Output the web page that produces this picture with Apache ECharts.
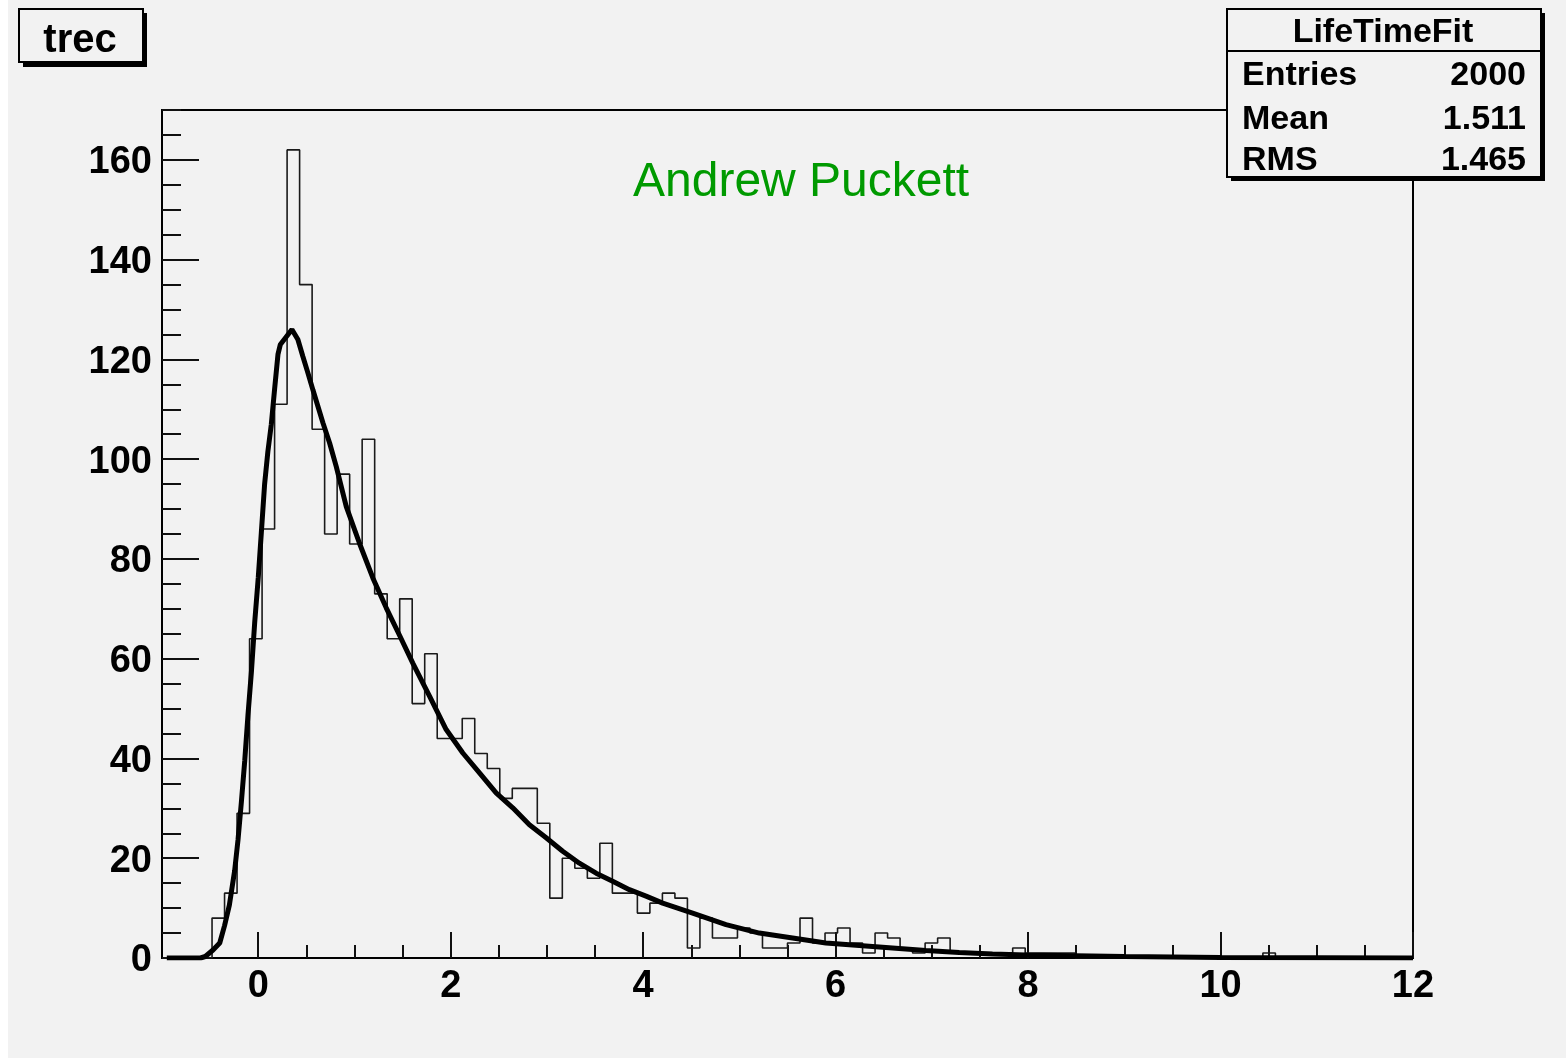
<!DOCTYPE html>
<html>
<head>
<meta charset="utf-8">
<script src="https://cdn.jsdelivr.net/npm/echarts@6/dist/echarts.min.js"></script>
<style>
  html, body { margin: 0; padding: 0; background: #ffffff; }
  #bg { position: absolute; left: 8px; top: 0; width: 1558px; height: 1058px; background: #f2f2f2; }
  #chart { position: absolute; left: 0; top: 0; width: 1566px; height: 1061px; }
</style>
</head>
<body>
<div id="bg"></div>
<div id="chart"></div>
<script>
// ---- Histogram definition: 100 bins from -1 to 12 ----
const binLow = -1;
const binWidth = 0.13;
const counts = [
  0, 0, 0, 0, 8, 13, 29, 64, 86, 111,
  162, 135, 106, 85, 97, 83, 104, 73, 64, 72,
  51, 61, 44, 44, 48, 41, 38, 32, 34, 34,
  27, 12, 20, 18, 16, 23, 13, 13, 9, 11,
  13, 12, 2, 8, 4, 4, 6, 5, 2, 2,
  3, 8, 3, 5, 6, 3, 1, 5, 4, 2,
  1, 3, 4, 1, 1, 1, 1, 1, 2, 1,
  1, 1, 1, 0, 0, 0, 0, 0, 0, 0,
  0, 0, 0, 0, 0, 0, 0, 0, 1, 0,
  0, 0, 0, 0, 0, 0, 0, 0, 0, 0
];

// ---- Fit curve ----
const curveX = [-0.95, -0.6, -0.55, -0.47, -0.40, -0.35, -0.30, -0.245, -0.21, -0.175,
  -0.14, -0.107, -0.07, -0.037, 0.0, 0.032, 0.066, 0.10, 0.136, 0.17,
  0.205, 0.23, 0.35, 0.412, 0.464, 0.516, 0.568, 0.62, 0.672, 0.741,
  0.811, 0.915, 1.053, 1.191, 1.33, 1.468, 1.606, 1.78, 1.953, 2.126,
  2.299, 2.472, 2.645, 2.818, 2.992, 3.164, 3.337, 3.511, 3.683, 3.857,
  4.03, 4.203, 4.514, 4.861, 5.207, 5.553, 5.899, 6.245, 6.591, 6.938,
  7.284, 7.63, 7.976, 9.0, 10.0, 12.0];
const curveY = [0, 0, 0.3, 1.6, 3.0, 6.5, 10.6, 17.5, 23.7, 31.3,
  39.6, 48.6, 57.6, 67.2, 76.2, 85.2, 94.9, 101.5, 107, 114,
  121, 123, 126, 124, 120.6, 117.3, 113.9, 110.6, 107.3, 103.3,
  98.5, 90.5, 83.1, 76.2, 70.2, 64.7, 59.1, 52.5, 45.8, 41.1,
  37.1, 33.1, 30.1, 26.7, 24.1, 21.4, 19.0, 17.0, 15.4, 13.7,
  12.4, 11.0, 9.0, 6.7, 5.0, 4.0, 3.0, 2.5, 2.0, 1.5,
  1.1, 0.8, 0.6, 0.3, 0.1, 0];

// ---- Axis ticks ----
const xTickLabels = [0, 2, 4, 6, 8, 10, 12];
const yTickLabels = [0, 20, 40, 60, 80, 100, 120, 140, 160];

// ---- Texts ----
const titleText = 'trec';
const statsTitle = 'LifeTimeFit';
const statsNames = ['Entries', 'Mean', 'RMS'];
const statsValues = ['2000', '1.511', '1.465'];
const authorText = 'Andrew Puckett';

const histData = counts.map((c, i) => [+(binLow + i * binWidth).toFixed(2), c]);
histData.push([+(binLow + counts.length * binWidth).toFixed(2), counts[counts.length - 1]]);
const curveData = curveX.map((x, i) => [x, curveY[i]]);

const FONT = '"Liberation Sans", Arial, Helvetica, sans-serif';
const frameL = 162, frameT = 110, frameW = 1251, frameH = 848;
const xMin = -1, xMax = 12, yMax = 170;
const x0px = frameL + frameW * (xTickLabels[0] - xMin) / (xMax - xMin);
const yTopLabel = yTickLabels[yTickLabels.length - 1];
const y160px = frameT + frameH * (yMax - yTopLabel) / yMax;

const chart = echarts.init(document.getElementById('chart'), null, { renderer: 'canvas' });

const statsY = [75.5, 119.5, 161];
const graphics = [
  // title box
  { type: 'rect', z: 100, shape: { x: 23, y: 13, width: 124, height: 54 }, style: { fill: '#000' } },
  { type: 'rect', z: 101, shape: { x: 19, y: 9, width: 124, height: 53 }, style: { fill: '#f2f2f2', stroke: '#000', lineWidth: 2 } },
  { type: 'text', z: 102, x: 80, y: 41, style: { text: titleText, font: 'bold 40px ' + FONT, fill: '#000', textAlign: 'center', textVerticalAlign: 'middle' } },
  // stats box
  { type: 'rect', z: 100, shape: { x: 1231, y: 13, width: 314, height: 168 }, style: { fill: '#000' } },
  { type: 'rect', z: 101, shape: { x: 1227, y: 9, width: 314, height: 168 }, style: { fill: '#f2f2f2', stroke: '#000', lineWidth: 2 } },
  { type: 'line', z: 102, shape: { x1: 1227, y1: 51, x2: 1541, y2: 51 }, style: { stroke: '#000', lineWidth: 2 } },
  { type: 'text', z: 102, x: 1383, y: 33, style: { text: statsTitle, font: 'bold 34px ' + FONT, fill: '#000', textAlign: 'center', textVerticalAlign: 'middle' } },
  // author
  { type: 'text', z: 102, x: 633, y: 183, style: { text: authorText, font: '48px ' + FONT, fill: '#009a00', textAlign: 'left', textVerticalAlign: 'middle' } }
];
statsNames.forEach((n, i) => {
  graphics.push({ type: 'text', z: 102, x: 1242, y: statsY[i], style: { text: n, font: 'bold 34px ' + FONT, fill: '#000', textAlign: 'left', textVerticalAlign: 'middle' } });
  graphics.push({ type: 'text', z: 102, x: 1526, y: statsY[i], style: { text: statsValues[i], font: 'bold 34px ' + FONT, fill: '#000', textAlign: 'right', textVerticalAlign: 'middle' } });
});

const option = {
  animation: false,
  backgroundColor: 'transparent',
  grid: [
    { left: frameL, top: frameT, width: frameW, height: frameH, show: true, borderColor: '#000', borderWidth: 2, backgroundColor: 'transparent' },
    { left: x0px, top: frameT, width: frameL + frameW - x0px, height: frameH, show: false },
    { left: frameL, top: y160px, width: frameW, height: frameT + frameH - y160px, show: false }
  ],
  xAxis: [
    { gridIndex: 0, type: 'value', min: xMin, max: xMax, show: false, axisLine: { onZero: false } },
    { gridIndex: 1, type: 'value', min: xTickLabels[0], max: xTickLabels[xTickLabels.length - 1], interval: 2,
      axisLine: { show: false, onZero: false },
      axisTick: { show: true, inside: true, length: 26, lineStyle: { color: '#111', width: 2 } },
      minorTick: { show: true, splitNumber: 4, length: 13, lineStyle: { color: '#111', width: 2 } },
      splitLine: { show: false },
      axisLabel: { show: true, margin: 10, color: '#000', fontFamily: FONT, fontWeight: 'bold', fontSize: 38 } },
    { gridIndex: 2, type: 'value', min: 0, max: 1, show: false, axisLine: { onZero: false } }
  ],
  yAxis: [
    { gridIndex: 0, type: 'value', min: 0, max: yMax, interval: 5,
      axisLine: { show: false, onZero: false },
      axisTick: { show: true, inside: true, length: 19, lineStyle: { color: '#111', width: 2 } },
      axisLabel: { show: false },
      splitLine: { show: false } },
    { gridIndex: 1, type: 'value', min: 0, max: 1, show: false, axisLine: { onZero: false } },
    { gridIndex: 2, type: 'value', min: yTickLabels[0], max: yTopLabel, interval: 20,
      axisLine: { show: false, onZero: false },
      axisTick: { show: true, inside: true, length: 37, lineStyle: { color: '#111', width: 2 } },
      splitLine: { show: false },
      axisLabel: { show: true, margin: 10, verticalAlign: 'top', lineHeight: 6, color: '#000', fontFamily: FONT, fontWeight: 'bold', fontSize: 38 } }
  ],
  series: [
    { name: 'trec', type: 'line', xAxisIndex: 0, yAxisIndex: 0, step: 'end', data: histData,
      symbol: 'none', lineStyle: { color: '#1a1a1a', width: 1.6 }, z: 3 },
    { name: 'fit', type: 'line', xAxisIndex: 0, yAxisIndex: 0, data: curveData,
      symbol: 'none', smooth: false, lineStyle: { color: '#000', width: 5 }, z: 4 }
  ],
  graphic: graphics
};
chart.setOption(option);
</script>
</body>
</html>
